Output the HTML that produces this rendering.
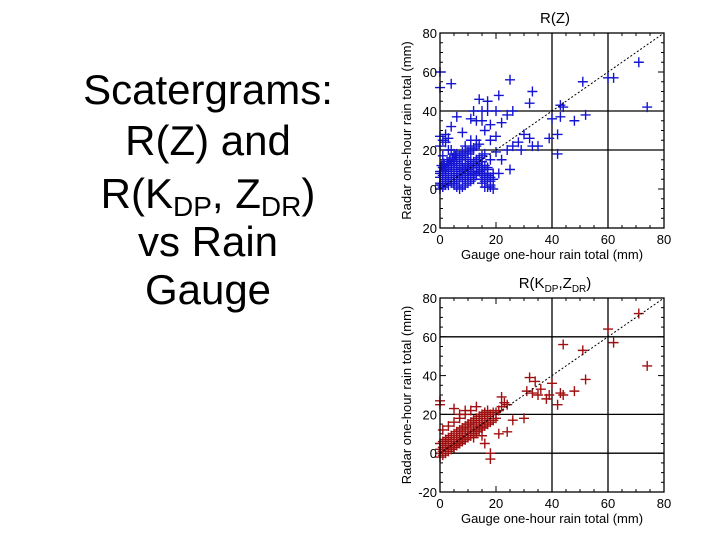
<!DOCTYPE html>
<html><head><meta charset="utf-8"><style>
html,body{margin:0;padding:0;background:#fff;}
body{width:720px;height:540px;overflow:hidden;position:relative;font-family:"Liberation Sans",Arial,sans-serif;}
#title{position:absolute;left:40px;top:0;width:336px;text-align:center;font-size:42px;color:#000;}
#title div{position:absolute;left:0;width:336px;}
sub{font-size:28px;vertical-align:-8px;line-height:0;}
</style></head><body>
<div id="title">
<div style="top:66px">Scatergrams:</div>
<div style="top:117px">R(Z) and</div>
<div style="top:170px">R(K<sub>DP</sub>, Z<sub>DR</sub>)</div>
<div style="top:218px">vs Rain</div>
<div style="top:266px">Gauge</div>
</div>
<svg id="svg" width="720" height="540" style="position:absolute;left:0;top:0"></svg>
<script>
const xTicks=[0,20,40,60,80];
const yTicks=[-20,0,20,40,60,80];
const topGauge=[0,0,4,25,21,17,14,33,32,51,60,62,71,74,43,44,52,48,43,42,40,39,42,35,33,32,30,28,29,26,24,25,22,21,12,15,17,13,15,18,22,24,20,26,6,11,4,8,2,0,1,3,16,20,18,13,11,9,
 0,1,2,3,4,5,6,7,8,9,10,11,12,13,14,15,16,17,18,0,1,2,3,4,5,6,7,8,9,10,11,12,13,14,15,16,17,18,0,1,2,3,4,5,6,7,8,9,10,11,12,13,14,15,16,0,1,2,3,4,5,6,7,8,9,10,11,12,13,14,1,3,5,7,9,11,13,15,17,19,2,4,6,8,10,12,14,16,18,20,0,2,4,6,8,10,12,1,3,5,7,9,11,13,15,19,17,
 0,1,2,3,4,5,6,7,8,9,10,11,12,13,14,15,16,17,18,19,0,1,2,3,4,5,6,7,8,9,10,11,12,13,14,15,16,17,0,2,4,6,8,10,12,14,16,18,1,3,5,7,9,11,13,15,17,0.5,1.5,2.5,3.5,4.5,5.5,6.5,7.5,8.5,9.5,10.5,11.5,12.5,13.5];
const topRadar=[60,52,54,56,48,45,46,50,44,55,57,57,65,42,43,42,38,35,37,28,36,26,18,22,22,26,28,24,20,22,20,10,15,8,40,40,40,35,35,33,34,38,40,40,37,36,32,29,28,27,25,26,30,27,25,25,25,22,
 2,3,4,5,6,7,8,9,10,11,12,13,14,15,16,17,18,8,6,8,9,10,12,13,14,15,16,17,18,19,20,21,22,23,14,12,10,1,0,1,2,3,4,5,6,7,8,9,10,11,12,13,14,5,4,3,6,5,4,3,2,1,0,1,2,3,4,5,11,14,17,20,18,17,16,15,14,12,6,8,10,12,14,16,18,20,9,6,15,19,22,24,20,18,19,7,9,11,13,15,17,19,21,8,3,
 0,1,2,1,3,2,4,3,5,4,6,5,7,6,8,7,9,8,7,6,4,5,6,7,8,9,10,11,10,12,11,13,12,14,13,15,14,12,6,7,9,10,12,13,15,11,8,9,1,2,3,4,5,6,7,8,9,10,11,12,13,14,15,16,17];
const botGauge=[71,60,62,74,51,44,52,40,32,34,36,35,33,31,38,39,43,44,42,48,30,26,24,22,22,23,24,0,0,5,7,9,
 0,1,2,3,4,5,6,7,8,9,10,11,12,13,14,15,16,17,18,19,20,21,0,1,2,3,4,5,6,7,8,9,10,11,12,13,14,15,16,17,18,19,20,0,1,2,3,4,5,6,7,8,9,10,11,12,13,14,15,16,17,18,0,1,2,3,4,5,6,7,8,9,10,11,12,13,14,15,16,2,4,6,8,10,12,14,16,18,3,5,7,9,11,13,15,17,19,21,1,3,5,7,9,11,13,15,12,16];
const botRadar=[72,64,57,45,53,56,38,36,39,37,33,30,31,32,28,30,31,30,25,32,18,17,11,24,29,26,25,25,27,23,20,22,
 2,3,4,5,6,7,8,9,10,11,12,13,14,15,16,17,18,19,20,21,21,22,-2,-1,0,1,2,3,4,5,6,7,8,9,10,11,12,13,14,15,16,17,18,5,6,7,8,9,10,11,12,13,14,15,16,17,18,19,20,21,22,0,0,1,2,2,3,4,5,6,7,8,9,10,11,12,13,14,5,7,9,11,13,15,17,19,21,-3,1,3,5,7,9,11,13,15,17,10,12,14,16,18,20,22,24,9,8];
const NS="http://www.w3.org/2000/svg";
const svg=document.getElementById('svg');
function mk(tag,attrs,parent){const e=document.createElementNS(NS,tag);for(const k in attrs)e.setAttribute(k,attrs[k]);(parent||svg).appendChild(e);return e;}
function chart(cfg){
 const g=mk('g',{});
 
 
 const X=v=>cfg.x0+(v-0)/80*(cfg.x1-cfg.x0);
 const Y=v=>cfg.yb+(v+20)/100*(cfg.yt-cfg.yb);
 cfg.hgrid.forEach(v=>{const l=mk('line',{x1:X(0),x2:X(80),y1:Y(v),y2:Y(v),stroke:'#000','stroke-width':1.3},g);
  
  });
 cfg.vgrid.forEach(v=>{const l=mk('line',{x1:X(v),x2:X(v),y1:Y(-20),y2:Y(80),stroke:'#000','stroke-width':1.3},g);
  
  });
 for(let v=0;v<=80;v+=5){mk('line',{x1:X(v),x2:X(v),y1:Y(-20),y2:Y(-20)-(v%20?3:6),stroke:'#000'},g);mk('line',{x1:X(v),x2:X(v),y1:Y(80),y2:Y(80)+(v%20?3:6),stroke:'#000'},g);}
 for(let v=-20;v<=80;v+=5){mk('line',{x1:X(0),x2:X(0)+(v%20?3:6),y1:Y(v),y2:Y(v),stroke:'#000'},g);mk('line',{x1:X(80),x2:X(80)-(v%20?3:6),y1:Y(v),y2:Y(v),stroke:'#000'},g);}
 const pg=mk('g',{},g);
 
 
 cfg.xs.forEach((xv,i)=>{const px=X(xv),py=Y(cfg.ys[i]);
  const p=mk('path',{d:`M${px-5},${py}H${px+5}M${px},${py-5}V${py+5}`,stroke:cfg.color,'stroke-width':1.4,fill:'none'},pg);
  
  });
 const d=mk('line',{x1:X(0),y1:Y(0),x2:X(80),y2:Y(80),stroke:'#000','stroke-width':1,'stroke-dasharray':'2,2'},g);
 
 
 const f=mk('rect',{x:X(0),y:Y(80),width:X(80)-X(0),height:Y(-20)-Y(80),fill:'none',stroke:'#000','stroke-width':1.3},g);
 
 
 xTicks.forEach(v=>{const t=mk('text',{x:X(v),y:Y(-20)+16,'text-anchor':'middle','font-size':13,'font-family':'Liberation Sans, sans-serif'},g);t.textContent=v;
  
  });
 yTicks.forEach(v=>{const t=mk('text',{x:X(0)-3,y:Y(v)+5,'text-anchor':'end','font-size':13,'font-family':'Liberation Sans, sans-serif'},g);t.textContent=cfg.ylab(v);
  
  });
 const xt=mk('text',{x:(X(0)+X(80))/2,y:Y(-20)+31,'text-anchor':'middle','font-size':13,'font-family':'Liberation Sans, sans-serif'},g);xt.textContent='Gauge one-hour rain total (mm)';
 
 
 const yt=mk('text',{x:0,y:0,transform:`translate(${X(0)-29},${(Y(80)+Y(-20))/2}) rotate(-90)`,'text-anchor':'middle','font-size':13,'font-family':'Liberation Sans, sans-serif'},g);yt.textContent='Radar one-hour rain total (mm)';
 
 
 const ct=mk('text',{x:(X(0)+X(80))/2+3,y:Y(80)-10,'text-anchor':'middle','font-size':15,'font-family':'Liberation Sans, sans-serif'},g);ct.innerHTML=cfg.title;
 
 
}
chart({name:'rz-scatter',x0:440,x1:664,yt:33,yb:228,hgrid:[20,40],vgrid:[40,60],xs:topGauge,ys:topRadar,color:'#1414d2',ylab:v=>Math.abs(v),title:'R(Z)'});
chart({name:'rkdp-zdr-scatter',x0:440,x1:664,yt:298,yb:492,hgrid:[0,20,60],vgrid:[40,60],xs:botGauge,ys:botRadar,color:'#a01010',ylab:v=>v,title:'R(K<tspan font-size="10" dy="4">DP</tspan><tspan dy="-4">,Z</tspan><tspan font-size="10" dy="4">DR</tspan><tspan dy="-4">)</tspan>'});
</script>
</body></html>
